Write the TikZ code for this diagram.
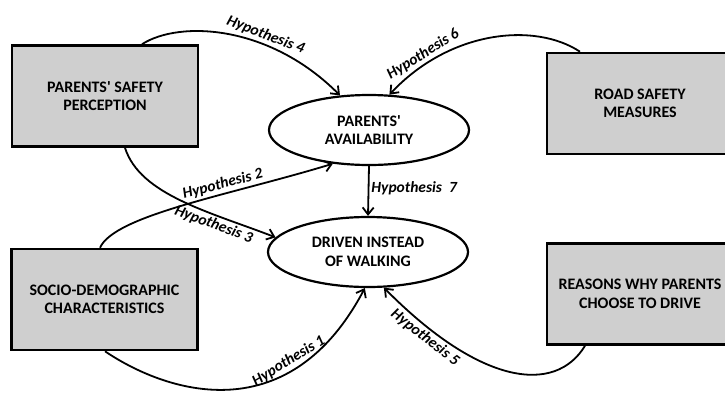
\documentclass[tikz,border=0pt]{standalone}
\usepackage{fontspec}
\setmainfont{Carlito}
\usetikzlibrary{shapes.geometric, arrows.meta}
\tikzstyle{factor} = [rectangle, minimum width=186pt, minimum height=101pt, text centered, align=center, draw=black, line width=2.6pt, fill=black!19, font=\fontsize{16}{18.5}\selectfont\bfseries]
\tikzstyle{outcome} = [ellipse, minimum width=200pt, minimum height=70pt, inner sep=0pt, text centered, align=center, draw=black, line width=2.2pt, fill=white, font=\fontsize{16}{18.5}\selectfont\bfseries]
\tikzstyle{arrow} = [line width=1.8pt, -{Straight Barb[length=7pt,width=11pt]}]
\tikzstyle{hyp} = [sloped, font=\fontsize{15.5}{17}\selectfont\bfseries\itshape, inner sep=2pt]

\begin{document}
\begin{tikzpicture}[x=1pt, y=-1pt]
        \useasboundingbox (0,0) rectangle (725,397);
        \node (psp) [factor] at (105,96) {PARENTS\textquotesingle\ SAFETY\\PERCEPTION};
        \node (rsm) [factor] at (640,103.5) {ROAD SAFETY\\MEASURES};
        \node (sdc) [factor] at (104.5,299.5) {SOCIO-DEMOGRAPHIC\\CHARACTERISTICS};
        \node (rwp) [factor] at (640,294) {REASONS WHY PARENTS\\CHOOSE TO DRIVE};
        \node (pa) [outcome] at (369,130) {PARENTS\textquotesingle\\AVAILABILITY};
        \node (diw) [outcome] at (368,252) {DRIVEN INSTEAD\\OF WALKING};
        \draw [arrow] ([xshift=37pt]psp.north) .. controls (180,20) and (270,25) .. (pa.130) node [hyp, above, pos=0.65] {Hypothesis 4};
        \draw [arrow] ([xshift=-60pt]rsm.north) .. controls (535,22) and (450,30) .. (pa.60) node [hyp, above, pos=0.8] {Hypothesis 6};
        \draw [arrow] ([xshift=-4.5pt]sdc.north) .. controls (115,215) and (230,195) .. (pa.223) node [hyp, above, pos=0.65] {Hypothesis 2};
        \draw [arrow] ([xshift=20pt]psp.south) .. controls (140,195) and (210,212) .. (diw.171) node [hyp, below, pos=0.7] {Hypothesis 3};
        \draw [arrow] ([xshift=0.5pt]sdc.south) .. controls (170,395) and (290,430) .. (diw.265) node [hyp, above, pos=0.72] {Hypothesis 1};
        \draw [arrow] ([xshift=-55pt]rwp.south) .. controls (555,395) and (480,385) .. (diw.294) node [hyp, below, pos=0.83] {Hypothesis 5};
        \draw [arrow] (pa.south) -- (diw.north) node [hyp, right, pos=0.45, sloped=false] {Hypothesis\ \ 7};
    \end{tikzpicture}
\end{document}
